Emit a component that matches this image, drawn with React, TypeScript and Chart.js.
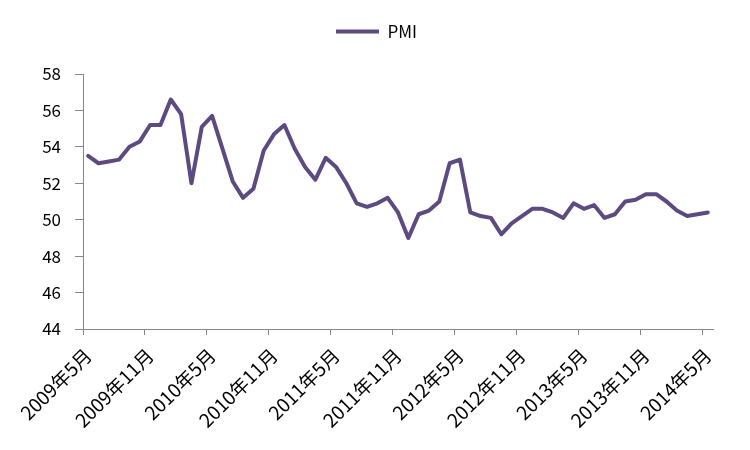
import React, { useEffect, useRef } from "react";
import { Chart, registerables } from "chart.js";

Chart.register(...registerables);

const categories: string[] = [
  "2009年5月", "2009年6月", "2009年7月", "2009年8月", "2009年9月", "2009年10月", "2009年11月", "2009年12月",
  "2010年1月", "2010年2月", "2010年3月", "2010年4月", "2010年5月", "2010年6月", "2010年7月", "2010年8月",
  "2010年9月", "2010年10月", "2010年11月", "2010年12月",
  "2011年1月", "2011年2月", "2011年3月", "2011年4月", "2011年5月", "2011年6月", "2011年7月", "2011年8月",
  "2011年9月", "2011年10月", "2011年11月", "2011年12月",
  "2012年1月", "2012年2月", "2012年3月", "2012年4月", "2012年5月", "2012年6月", "2012年7月", "2012年8月",
  "2012年9月", "2012年10月", "2012年11月", "2012年12月",
  "2013年1月", "2013年2月", "2013年3月", "2013年4月", "2013年5月", "2013年6月", "2013年7月", "2013年8月",
  "2013年9月", "2013年10月", "2013年11月", "2013年12月",
  "2014年1月", "2014年2月", "2014年3月", "2014年4月", "2014年5月",
];

const pmi: number[] = [
  53.5, 53.1, 53.2, 53.3, 54.0, 54.3, 55.2, 55.2, 56.6, 55.8,
  52.0, 55.1, 55.7, 53.9, 52.1, 51.2, 51.7, 53.8, 54.7, 55.2,
  53.9, 52.9, 52.2, 53.4, 52.9, 52.0, 50.9, 50.7, 50.9, 51.2,
  50.4, 49.0, 50.3, 50.5, 51.0, 53.1, 53.3, 50.4, 50.2, 50.1,
  49.2, 49.8, 50.2, 50.6, 50.6, 50.4, 50.1, 50.9, 50.6, 50.8,
  50.1, 50.3, 51.0, 51.1, 51.4, 51.4, 51.0, 50.5, 50.2, 50.3,
  50.4,
];

const seriesName = "PMI";
const yMin = 44;
const yMax = 58;
const yStep = 2;
const labelEvery = 6;

const LINE_COLOR = "#5d4a80";
const AXIS_COLOR = "#868686";
const FONT = "'Noto Sans CJK SC', 'Noto Sans', sans-serif";

export default function App() {
  const ref = useRef<HTMLCanvasElement | null>(null);

  useEffect(() => {
    if (!ref.current) return;
    const legendSpacer = {
      id: "legendSpacer",
      beforeInit(chart: any) {
        if (!chart.legend) return;
        const orig = chart.legend.fit;
        chart.legend.fit = function fit() {
          orig.bind(chart.legend)();
          this.height += 24;
        };
      },
      afterLayout(chart: any) {
        if (!chart.legend) return;
        chart.legend.left += 20;
        chart.legend.right += 20;
      },
    };
    const chart = new Chart(ref.current, {
      type: "line",
      data: {
        labels: categories,
        datasets: [
          {
            label: seriesName,
            data: pmi,
            borderColor: LINE_COLOR,
            backgroundColor: LINE_COLOR,
            borderWidth: 4,
            pointRadius: 0,
            tension: 0,
            borderJoinStyle: "round",
            borderCapStyle: "round",
            fill: false,
          },
        ],
      },
      options: {
        animation: false,
        responsive: false,
        layout: { padding: { top: 13, right: 37, bottom: 0, left: 0 } },
        plugins: {
          tooltip: { enabled: false },
          legend: {
            display: true,
            position: "top",
            labels: {
              boxWidth: 43,
              boxHeight: 4,
              padding: 10,
              color: "#000",
              font: { family: FONT, size: 17 },
              generateLabels(chart: any) {
                const items = Chart.defaults.plugins.legend.labels.generateLabels(chart);
                return items.map((it: any) => ({ ...it, lineWidth: 0, fillStyle: LINE_COLOR }));
              },
            },
          },
        },
        scales: {
          x: {
            type: "category",
            offset: true,
            afterFit(scale: any) {
              scale.height = 121;
            },
            grid: {
              offset: true,
              drawOnChartArea: false,
              tickLength: 6,
              color: (ctx: any) =>
                typeof ctx.index === "number" && ctx.index % labelEvery === 0 ? AXIS_COLOR : "rgba(0,0,0,0)",
            },
            border: { display: true, color: AXIS_COLOR, width: 1 },
            ticks: {
              autoSkip: false,
              maxRotation: 45,
              minRotation: 45,
              padding: 9,
              color: "#000",
              font: { family: FONT, size: 19 },
              callback: (_v: any, i: number) => (i % labelEvery === 0 ? categories[i] : ""),
            },
          },
          y: {
            min: yMin,
            max: yMax,
            afterFit(scale: any) {
              scale.width = 83;
            },
            grid: {
              drawOnChartArea: false,
              tickLength: 8,
              color: AXIS_COLOR,
            },
            border: { display: true, color: AXIS_COLOR, width: 1 },
            ticks: {
              stepSize: yStep,
              padding: 14,
              color: "#000",
              font: { family: FONT, size: 17 },
            },
          },
        },
      },
      plugins: [legendSpacer],
    } as any);
    return () => chart.destroy();
  }, []);

  return (
    <div style={{ position: "fixed", left: 0, top: 0, width: 750, height: 450, background: "#fff" }}>
      <canvas ref={ref} width={750} height={450} style={{ width: 750, height: 450 }} />
    </div>
  );
}
